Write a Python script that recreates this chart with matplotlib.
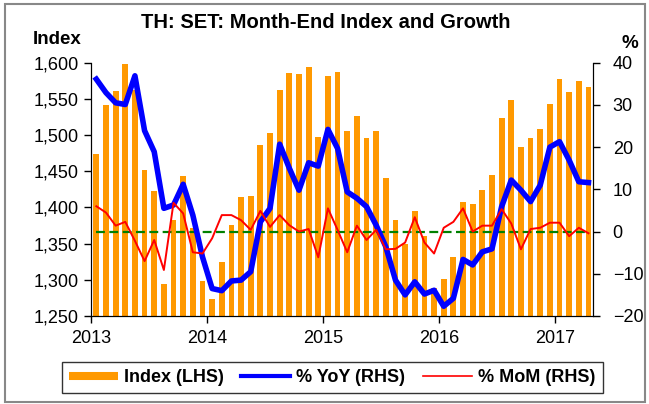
import matplotlib
matplotlib.use("Agg")
import matplotlib.pyplot as plt
import matplotlib.transforms as mtransforms
from matplotlib.lines import Line2D
from matplotlib.patches import Rectangle
import numpy as np

plt.rcParams['font.family'] = ['Liberation Sans', 'DejaVu Sans']

# monthly data, Jan 2013 - Apr 2017
years = ['2013', '2014', '2015', '2016', '2017']

index = [1474, 1542, 1561, 1598, 1562, 1452, 1423, 1294, 1383, 1443, 1371, 1299,
         1274, 1325, 1376, 1415, 1416, 1486, 1503, 1562, 1586, 1584, 1594, 1498,
         1581, 1587, 1506, 1527, 1496, 1505, 1440, 1382, 1349, 1395, 1360, 1288,
         1301, 1332, 1408, 1405, 1424, 1445, 1524, 1548, 1483, 1496, 1509, 1543,
         1577, 1560, 1575, 1566]

yoy = [36.1, 32.9, 30.5, 30.1, 36.9, 23.9, 18.9, 5.5, 6.3, 11.2, 3.9, -6.0,
       -13.5, -14.0, -11.7, -11.5, -9.5, 2.3, 5.5, 20.7, 15.0, 9.8, 16.3, 15.5,
       24.2, 19.7, 9.4, 7.9, 5.9, 1.5, -3.6, -11.5, -15.0, -11.9, -14.8, -13.9,
       -17.7, -15.8, -6.6, -7.9, -4.8, -4.1, 5.9, 12.2, 9.8, 7.1, 11.0, 20.0,
       21.3, 16.9, 11.8, 11.6]

mom = [6.0, 4.5, 1.4, 2.3, -2.2, -7.0, -2.0, -9.1, 6.8, 4.3, -4.9, -5.2,
       -1.6, 3.9, 3.9, 2.7, 0.4, 4.9, 1.1, 3.9, 1.5, 0.0, 0.6, -6.1,
       5.5, 0.4, -4.9, 1.4, -2.0, 0.4, -4.2, -4.1, -2.6, 3.4, -2.6, -5.2,
       0.9, 2.3, 5.5, 0.0, 1.4, 1.4, 5.3, 1.9, -4.2, 0.6, 0.9, 2.1,
       2.1, -1.1, 0.9, -0.4]

orange = '#FF9900'
W, H = 649, 404
x = np.arange(len(index))

fig = plt.figure(figsize=(W / 100, H / 100), dpi=100)
ax = fig.add_axes([91.5 / W, 1 - 316 / H, (593.3 - 91.5) / W, (316 - 62.7) / H])

# bars on left axis
ax.bar(x, index, width=0.6, color=orange, zorder=2)
ax.set_ylim(1250, 1600)
ax.set_yticks(np.arange(1250, 1601, 50))
ax.set_yticklabels([f'{v:,}' for v in range(1250, 1601, 50)])
ax.set_xlim(-0.5, len(index) - 0.5)
ax.set_xticks(np.arange(len(years)) * 12 - 0.5)
ax.set_xticklabels(years)
offset = mtransforms.ScaledTranslation(4.5 / 100, 0, fig.dpi_scale_trans)
for lab in ax.get_xticklabels():
    lab.set_transform(lab.get_transform() + offset)

# lines on right axis
ax2 = ax.twinx()
ax2.plot(x, np.zeros(len(x)), color='#008000', lw=1.6, ls=(0, (4, 2)), zorder=1)
ax2.plot(x, yoy, color='#0000FF', lw=4, zorder=3)
ax2.plot(x, mom, color='#FF0000', lw=1.4, zorder=4)
ax2.set_ylim(-20, 40)
ax2.set_yticks(np.arange(-20, 41, 10))

for a in (ax, ax2):
    a.spines['top'].set_visible(False)
    a.tick_params(direction='out', length=5, width=1, labelsize=13, pad=4)
ax.tick_params(axis='x', pad=5)
ax2.tick_params(axis='y', pad=9)

fig.text(325.6 / W, 1 - 22 / H, 'TH: SET: Month-End Index and Growth',
         ha='center', va='center', fontsize=14.5, fontweight='bold')
fig.text(57 / W, 1 - 40 / H, 'Index', ha='center', va='center',
         fontsize=13.5, fontweight='bold')
fig.text(630 / W, 1 - 44 / H, '%', ha='center', va='center',
         fontsize=13.5, fontweight='bold')

handles = [Line2D([], [], color=orange, lw=5.8, solid_capstyle='butt'),
           Line2D([], [], color='#0000FF', lw=3),
           Line2D([], [], color='#FF0000', lw=1.2)]
labels = ['Index (LHS)', '% YoY (RHS)', '% MoM (RHS)']
leg = fig.legend(handles, labels, loc='center', ncol=3, mode='expand',
                 bbox_to_anchor=(61.7 / W, 1 - 394 / H, 541 / W, 33.3 / H),
                 prop={'size': 13, 'weight': 'bold'}, frameon=True,
                 fancybox=False, edgecolor='black', handlelength=2.7,
                 handletextpad=0.35, columnspacing=0.4, borderaxespad=0)
leg.get_frame().set_linewidth(1)

fig.patches.append(Rectangle((5 / W, 1 - 401.5 / H), 640 / W, 398 / H,
                             transform=fig.transFigure, fill=False,
                             edgecolor='#888888', lw=1.5))

fig.savefig('out.png', dpi=100)
